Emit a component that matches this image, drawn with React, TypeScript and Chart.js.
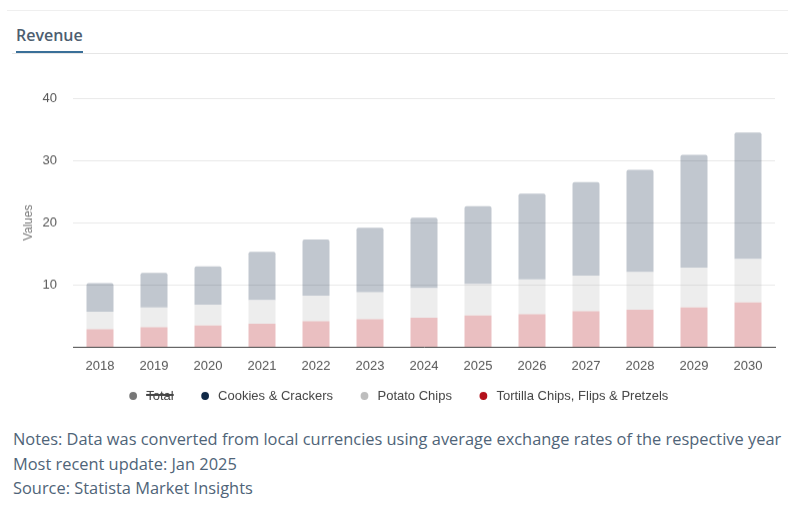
import React, { useEffect, useRef } from 'react';
import { Chart, registerables } from 'chart.js';

Chart.register(...registerables);

const years = ['2018', '2019', '2020', '2021', '2022', '2023', '2024', '2025', '2026', '2027', '2028', '2029', '2030'];
const totalValues = [10.3, 11.95, 13.0, 15.35, 17.3, 19.2, 20.8, 22.65, 24.65, 26.5, 28.5, 30.9, 34.5];
const cookiesValues = [4.6, 5.55, 6.15, 7.75, 9.0, 10.35, 11.25, 12.45, 13.75, 15.0, 16.4, 18.1, 20.3];
const potatoValues = [2.8, 3.2, 3.35, 3.8, 4.1, 4.35, 4.8, 5.1, 5.6, 5.7, 6.05, 6.4, 7.0];
const tortillaValues = [2.9, 3.2, 3.5, 3.8, 4.2, 4.5, 4.75, 5.1, 5.3, 5.8, 6.05, 6.4, 7.2];
const seriesNames = ['Tortilla Chips, Flips & Pretzels', 'Potato Chips', 'Cookies & Crackers', 'Total'];
const yMax = 40;
const yStep = 10;

const barColors = ['rgba(179,17,27,0.27)', 'rgba(187,187,187,0.27)', 'rgba(15,40,70,0.26)', 'rgba(119,119,119,0.27)'];
const legendColors = ['#b3111b', '#bdbdbd', '#0f2846', '#777777'];

const noteLines = [
  'Notes: Data was converted from local currencies using average exchange rates of the respective year',
  'Most recent update: Jan 2025',
  'Source: Statista Market Insights',
];

const legendShift = {
  id: 'legendShift',
  afterLayout(chart: any) {
    const lg = chart.legend;
    if (lg) {
      lg.left += 10;
      lg.right += 10;
      lg.top -= 10;
      lg.bottom -= 10;
    }
  },
};

export default function App() {
  const ref = useRef<HTMLCanvasElement | null>(null);

  useEffect(() => {
    if (!ref.current) return;
    const font = "'Liberation Sans', Arial, sans-serif";
    const chart = new Chart(ref.current, {
      type: 'bar',
      data: {
        labels: years,
        datasets: [
          { label: seriesNames[0], data: tortillaValues, backgroundColor: barColors[0] },
          { label: seriesNames[1], data: potatoValues, backgroundColor: barColors[1] },
          { label: seriesNames[2], data: cookiesValues, backgroundColor: barColors[2], borderRadius: 2 },
          { label: seriesNames[3], data: totalValues, backgroundColor: barColors[3], hidden: true },
        ],
      },
      options: {
        animation: false,
        responsive: true,
        maintainAspectRatio: false,
        layout: { padding: { top: 38, right: 13, left: 0, bottom: 0 } },
        datasets: { bar: { categoryPercentage: 1, barPercentage: 0.5 } },
        scales: {
          x: {
            stacked: true,
            grid: { display: false, drawTicks: false },
            border: { display: true, color: '#444444', width: 1 },
            ticks: { color: '#555555', font: { family: font, size: 13 }, padding: 11, maxRotation: 0 },
            afterFit: (scale: any) => {
              scale.height = 27;
            },
          },
          y: {
            stacked: true,
            min: 0,
            max: yMax,
            grid: { color: '#e8e8e8', drawTicks: false },
            border: { display: false },
            ticks: {
              stepSize: yStep,
              padding: 16,
              color: '#555555',
              font: { family: font, size: 13 },
              callback: (v: any) => (v === 0 ? '' : String(v)),
            },
            title: {
              display: true,
              text: 'Values',
              color: '#777777',
              font: { family: font, size: 12 },
              padding: { top: 21, bottom: 0 },
            },
            afterFit: (scale: any) => {
              scale.width = 73;
            },
          },
        },
        plugins: {
          tooltip: { enabled: false },
          legend: {
            position: 'bottom',
            reverse: true,
            labels: {
              usePointStyle: true,
              pointStyle: 'circle',
              boxHeight: 5.5,
              padding: 25,
              color: '#444444',
              font: { family: font, size: 13 },
              generateLabels: (c: any) => {
                const items = Chart.defaults.plugins.legend.labels.generateLabels(c);
                return items.map((it: any) => ({
                  ...it,
                  fillStyle: legendColors[it.datasetIndex],
                  strokeStyle: legendColors[it.datasetIndex],
                  lineWidth: 0,
                }));
              },
            },
          },
        },
      },
      plugins: [legendShift],
    } as any);
    return () => chart.destroy();
  }, []);

  return (
    <div
      style={{
        position: 'fixed',
        left: 0,
        top: 0,
        width: 788,
        height: 511,
        background: '#ffffff',
        overflow: 'hidden',
      }}
    >
      <div style={{ position: 'absolute', left: 7, right: 0, top: 10, height: 1, background: '#efefef' }} />
      <div
        style={{
          position: 'absolute',
          left: 16,
          top: 24,
          fontFamily: "'Open Sans', sans-serif",
          fontWeight: 600,
          fontSize: 16,
          color: '#4d5e70',
          lineHeight: '22px',
        }}
      >
        Revenue
      </div>
      <div style={{ position: 'absolute', left: 12, right: 0, top: 53, height: 1, background: '#e6e6e6' }} />
      <div style={{ position: 'absolute', left: 16, width: 67, top: 51, height: 2, background: '#3a6f98' }} />
      <div style={{ position: 'absolute', left: 0, top: 60, width: 788, height: 361.5 }}>
        <canvas ref={ref} />
      </div>
      {noteLines.map((t, i) => (
        <div
          key={i}
          style={{
            position: 'absolute',
            left: 13,
            top: 427 + i * 24.5,
            fontFamily: "'Open Sans', sans-serif",
            fontSize: 16.4,
            lineHeight: '24px',
            color: '#4f6478',
            whiteSpace: 'nowrap',
          }}
        >
          {t}
        </div>
      ))}
    </div>
  );
}
